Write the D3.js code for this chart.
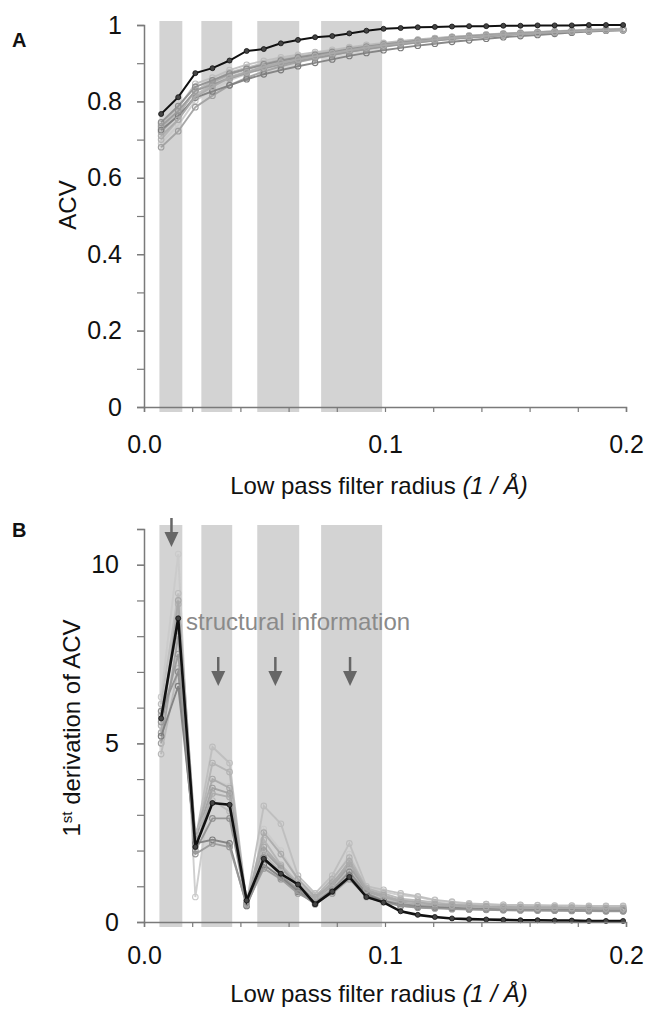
<!DOCTYPE html>
<html>
<head>
<meta charset="utf-8">
<script src="https://cdn.jsdelivr.net/npm/d3@7"></script>
<style>
  body { margin: 0; background: #fff; }
  svg { display: block; font-family: Arial, 'Liberation Sans', sans-serif; }
</style>
</head>
<body>
<svg id="chart" width="648" height="1014"></svg>
<script>
// sampling radii (1/Å)
const radius = [0.0071, 0.0142, 0.0213, 0.0284, 0.0355, 0.0426, 0.0497, 0.0568, 0.0639, 0.0710,
  0.0781, 0.0852, 0.0923, 0.0994, 0.1065, 0.1136, 0.1207, 0.1278, 0.1349, 0.1420,
  0.1491, 0.1562, 0.1633, 0.1704, 0.1775, 0.1846, 0.1917, 0.1988];

// shaded radius bands
const bands = [[0.0064, 0.0159], [0.0238, 0.0366], [0.047, 0.0644], [0.0735, 0.0988]];
// arrows in panel B
const arrowX = [0.0114, 0.0308, 0.0545, 0.0855];

const xTicks = [0, 0.1, 0.2];
const yTicksA = [0, 0.2, 0.4, 0.6, 0.8, 1];
const yTicksB = [0, 5, 10];

// panel A: ACV
const acvMain = [0.767, 0.811, 0.874, 0.887, 0.907, 0.932, 0.937, 0.952, 0.961, 0.968, 0.971, 0.978, 0.985, 0.990,
  0.992, 0.994, 0.995, 0.996, 0.997, 0.997, 0.998, 0.998, 0.999, 0.999, 0.999, 1.0, 1.0, 1.0];
const acvOthers = [
  [0.690,0.738,0.802,0.830,0.855,0.872,0.887,0.899,0.909,0.917,0.925,0.933,0.940,0.946,0.952,0.957,0.961,0.965,0.969,0.972,0.975,0.977,0.979,0.981,0.983,0.985,0.986,0.987],
  [0.740,0.784,0.846,0.862,0.882,0.896,0.906,0.915,0.922,0.929,0.935,0.942,0.948,0.953,0.958,0.962,0.966,0.969,0.972,0.975,0.978,0.980,0.982,0.984,0.986,0.988,0.989,0.990],
  [0.700,0.752,0.818,0.842,0.864,0.878,0.892,0.903,0.912,0.920,0.928,0.936,0.943,0.949,0.954,0.959,0.963,0.967,0.970,0.973,0.976,0.978,0.980,0.982,0.984,0.986,0.987,0.988],
  [0.720,0.765,0.828,0.850,0.870,0.884,0.896,0.906,0.915,0.922,0.930,0.938,0.944,0.950,0.955,0.960,0.964,0.968,0.971,0.974,0.977,0.979,0.981,0.983,0.985,0.987,0.988,0.989],
  [0.680,0.722,0.785,0.815,0.842,0.862,0.878,0.892,0.903,0.912,0.921,0.930,0.937,0.944,0.950,0.955,0.960,0.964,0.968,0.971,0.974,0.977,0.979,0.981,0.983,0.985,0.986,0.987],
  [0.730,0.772,0.826,0.854,0.876,0.888,0.900,0.910,0.918,0.925,0.932,0.940,0.946,0.952,0.957,0.961,0.965,0.969,0.972,0.975,0.977,0.979,0.981,0.983,0.985,0.987,0.988,0.989],
  [0.745,0.788,0.838,0.855,0.873,0.885,0.897,0.907,0.915,0.922,0.929,0.937,0.943,0.949,0.954,0.959,0.963,0.967,0.970,0.973,0.976,0.978,0.980,0.982,0.984,0.986,0.987,0.988],
  [0.725,0.762,0.810,0.826,0.842,0.858,0.871,0.882,0.892,0.901,0.910,0.919,0.927,0.934,0.940,0.946,0.951,0.956,0.960,0.964,0.968,0.971,0.974,0.977,0.980,0.983,0.985,0.986],
  [0.735,0.775,0.828,0.844,0.860,0.874,0.886,0.897,0.906,0.914,0.922,0.930,0.937,0.943,0.949,0.954,0.959,0.963,0.967,0.970,0.973,0.976,0.979,0.981,0.983,0.985,0.987,0.988],
  [0.710,0.752,0.812,0.838,0.862,0.876,0.890,0.901,0.910,0.918,0.926,0.934,0.941,0.947,0.952,0.957,0.962,0.966,0.969,0.972,0.975,0.977,0.979,0.981,0.983,0.985,0.986,0.987]
];

// panel B: 1st derivation of ACV
const derivMain = [5.7, 8.5, 2.1, 3.33, 3.28, 0.6, 1.77, 1.35, 1.05, 0.5, 0.85, 1.26, 0.7, 0.55,
  0.3, 0.2, 0.14, 0.1, 0.08, 0.07, 0.06, 0.05, 0.05, 0.04, 0.04, 0.03, 0.03, 0.03];
const derivOthers = [
  [6.3,10.3,0.7,4.0,3.8,0.45,2.6,2.0,1.2,0.75,1.1,1.9,0.95,0.85,0.75,0.7,0.6,0.55,0.5,0.5,0.48,0.47,0.46,0.45,0.45,0.44,0.44,0.44],
  [6.1,9.2,2.3,4.9,4.45,0.55,3.25,2.75,1.3,0.8,1.3,2.2,1.0,0.9,0.8,0.72,0.62,0.57,0.52,0.5,0.48,0.48,0.47,0.46,0.46,0.45,0.45,0.45],
  [5.5,8.9,2.2,4.45,4.2,0.5,2.3,1.6,1.1,0.7,1.2,1.8,0.95,0.8,0.65,0.6,0.55,0.5,0.48,0.45,0.44,0.43,0.42,0.42,0.41,0.41,0.4,0.4],
  [5.3,9.0,2.4,4.0,3.75,0.6,2.1,1.55,1.0,0.65,1.1,1.6,0.9,0.75,0.6,0.55,0.5,0.48,0.45,0.43,0.42,0.41,0.4,0.4,0.39,0.39,0.38,0.38],
  [5.0,8.0,2.3,3.75,3.6,0.55,2.0,1.5,1.05,0.6,1.0,1.55,0.85,0.7,0.55,0.5,0.47,0.45,0.42,0.4,0.4,0.39,0.38,0.38,0.37,0.37,0.36,0.36],
  [4.7,7.1,2.5,3.4,3.1,0.6,1.9,1.4,0.95,0.6,0.95,1.45,0.8,0.65,0.52,0.48,0.45,0.42,0.4,0.38,0.37,0.37,0.36,0.35,0.35,0.35,0.34,0.34],
  [5.9,7.0,2.0,2.9,2.9,0.5,1.8,1.3,0.9,0.55,0.9,1.4,0.8,0.6,0.5,0.45,0.42,0.4,0.38,0.36,0.35,0.35,0.34,0.34,0.33,0.33,0.32,0.32],
  [5.2,6.6,2.2,2.3,2.2,0.45,1.6,1.25,0.85,0.5,0.85,1.3,0.75,0.6,0.45,0.42,0.4,0.38,0.36,0.35,0.34,0.33,0.33,0.32,0.32,0.31,0.31,0.31],
  [5.6,7.5,1.9,2.2,2.1,0.5,1.5,1.2,0.8,0.55,0.8,1.2,0.7,0.55,0.45,0.4,0.38,0.36,0.35,0.34,0.33,0.33,0.32,0.32,0.31,0.31,0.3,0.3],
  [5.8,8.3,2.1,3.6,3.5,0.5,2.5,1.9,1.2,0.7,1.05,1.7,0.9,0.7,0.6,0.55,0.5,0.46,0.44,0.42,0.41,0.4,0.4,0.39,0.39,0.38,0.38,0.38]
];

const greys = ['#cacaca', '#bdbdbd', '#b3b3b3', '#a9a9a9', '#9f9f9f', '#b8b8b8', '#8e8e8e', '#7c7c7c', '#989898', '#aaaaaa'];

const svg = d3.select('#chart');
const x = d3.scaleLinear().domain([0, 0.2]).range([144, 626]);

function drawPanel(opt) {
  const g = svg.append('g');
  const y = opt.y;
  const y0 = y.range()[0], y1 = y.range()[1];

  // bands
  g.selectAll('rect.band')
    .data(bands)
    .join('rect')
    .attr('x', (d) => x(d[0]))
    .attr('width', (d) => x(d[1]) - x(d[0]))
    .attr('y', y1 - 4)
    .attr('height', y0 - y1 + 9)
    .attr('fill', '#d3d3d3');

  const line = d3.line()
    .x((d, i) => x(radius[i]))
    .y((d) => y(d));

  // grey series
  opt.others.forEach(function (s, k) {
    g.append('path')
      .attr('d', line(s))
      .attr('fill', 'none')
      .attr('stroke', greys[k])
      .attr('stroke-width', 1.9)
      .attr('opacity', 0.9);
    g.selectAll('circle.s' + k)
      .data(s)
      .join('circle')
      .attr('cx', (d, i) => x(radius[i]))
      .attr('cy', (d) => y(d))
      .attr('r', 2.8)
      .attr('fill', 'none')
      .attr('stroke', greys[k])
      .attr('stroke-width', 1.1);
  });

  // main series
  g.append('path')
    .attr('d', line(opt.main))
    .attr('fill', 'none')
    .attr('stroke', '#111')
    .attr('stroke-width', opt.mainWidth);
  g.selectAll('circle.main')
    .data(opt.main)
    .join('circle')
    .attr('cx', (d, i) => x(radius[i]))
    .attr('cy', (d) => y(d))
    .attr('r', 2.5)
    .attr('fill', '#444')
    .attr('stroke', '#111')
    .attr('stroke-width', 0.8);

  // axes
  g.append('g')
    .attr('transform', `translate(${x(0)},0)`)
    .call(d3.axisLeft(y).ticks(opt.minorTicks).tickSize(7).tickFormat(''));
  g.append('g')
    .attr('transform', `translate(${x(0)},0)`)
    .call(d3.axisLeft(y).tickValues(opt.yTicks).tickSize(7).tickFormat(opt.fmt).tickPadding(opt.yPad))
    .call((a) => a.select('.domain').remove());
  g.append('g')
    .attr('transform', `translate(0,${y0})`)
    .call(d3.axisBottom(x).ticks(10).tickSize(5).tickFormat(''));
  g.append('g')
    .attr('transform', `translate(0,${y0})`)
    .call(d3.axisBottom(x).tickValues(xTicks).tickSize(0).tickPadding(opt.xPad).tickFormat(d3.format('.1f')))
    .call((a) => a.select('.domain').remove());

  g.selectAll('.domain').attr('stroke', '#7a7a7a').attr('stroke-width', 1.5);
  g.selectAll('.tick line').attr('stroke', '#7a7a7a').attr('stroke-width', 1.2);
  g.selectAll('.tick text')
    .attr('font-size', 25)
    .attr('fill', '#111')
    .attr('font-family', 'Arial, Liberation Sans, sans-serif');

  // x axis title
  const xt = g.append('text')
    .attr('x', 379)
    .attr('y', opt.xTitleY)
    .attr('text-anchor', 'middle')
    .attr('font-size', 24)
    .attr('fill', '#111');
  xt.append('tspan').text('Low pass filter radius ');
  xt.append('tspan').attr('font-style', 'italic').text('(1 / Å)');

  // panel letter
  g.append('text')
    .attr('x', 12)
    .attr('y', opt.letterY)
    .attr('font-size', 20)
    .attr('font-weight', 'bold')
    .attr('fill', '#111')
    .text(opt.letter);

  return g;
}

// panel A
const yA = d3.scaleLinear().domain([0, 1]).range([407, 25]);
const gA = drawPanel({
  y: yA, main: acvMain, others: acvOthers, mainWidth: 2,
  yTicks: yTicksA, minorTicks: 10, fmt: (d) => (d === 0 || d === 1 ? d : d.toFixed(1)),
  yPad: 15, xPad: 28, xTitleY: 494, letter: 'A', letterY: 47
});
gA.append('text')
  .attr('transform', 'translate(76,205) rotate(-90)')
  .attr('text-anchor', 'middle')
  .attr('font-size', 24)
  .attr('fill', '#111')
  .text('ACV');

// panel B
const yB = d3.scaleLinear().domain([0, 11]).range([922, 529]);
const gB = drawPanel({
  y: yB, main: derivMain, others: derivOthers, mainWidth: 2.6,
  yTicks: yTicksB, minorTicks: 11, fmt: d3.format('d'),
  yPad: 18, xPad: 24, xTitleY: 1002, letter: 'B', letterY: 537
});
const yt = gB.append('text')
  .attr('transform', 'translate(80,728) rotate(-90)')
  .attr('text-anchor', 'middle')
  .attr('font-size', 24)
  .attr('fill', '#111');
yt.append('tspan').text('1');
yt.append('tspan').attr('font-size', 15).attr('baseline-shift', '8').text('st');
yt.append('tspan').text(' derivation of ACV');

gB.append('text')
  .attr('x', 186)
  .attr('y', 630)
  .attr('font-size', 24)
  .attr('fill', '#8a8a8a')
  .text('structural information');

// arrows
const arrowTop = [518, 657, 657, 657];
arrowX.forEach(function (a, i) {
  const ax = x(a), top = arrowTop[i];
  gB.append('line')
    .attr('x1', ax).attr('x2', ax)
    .attr('y1', top).attr('y2', top + 18)
    .attr('stroke', '#666')
    .attr('stroke-width', 2.5);
  gB.append('path')
    .attr('d', `M${ax - 7},${top + 14}L${ax + 7},${top + 14}L${ax},${top + 29}Z`)
    .attr('fill', '#666');
});
</script>
</body>
</html>
